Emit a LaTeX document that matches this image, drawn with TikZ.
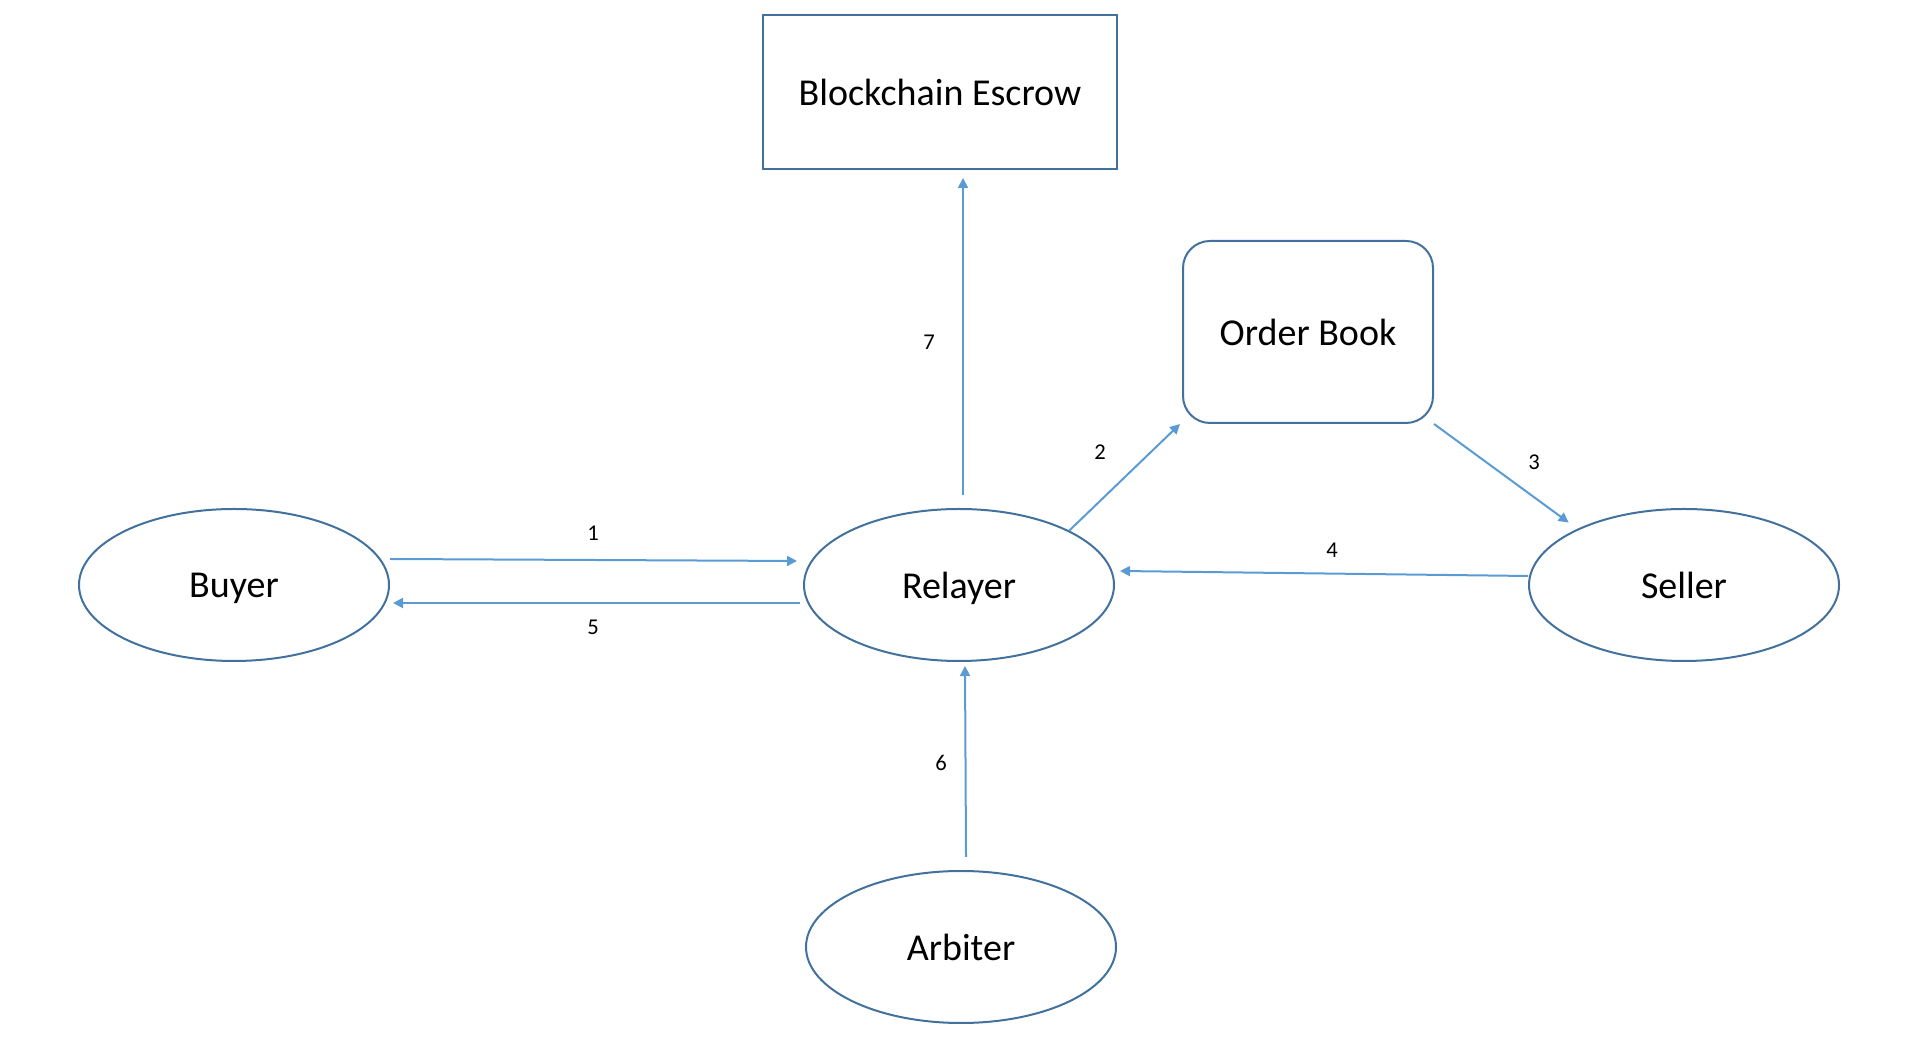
\documentclass[tikz,border=0pt]{standalone}
\usepackage{fontspec}
\setmainfont{Carlito}
\usepackage{tikz}
\usetikzlibrary{shapes.geometric, arrows.meta}

\definecolor{outlineblue}{HTML}{41719C}
\definecolor{arrowblue}{HTML}{5B9BD5}

\begin{document}
\begin{tikzpicture}[x=1pt, y=1pt,
  party/.style={ellipse, draw=outlineblue, line width=1pt, minimum width=155pt, minimum height=76pt, inner sep=0pt, text depth=0pt, font=\fontsize{19}{23}\selectfont},
  store/.style={rectangle, draw=outlineblue, line width=1pt, inner sep=0pt, text depth=0pt, font=\fontsize{19}{23}\selectfont},
  flow/.style={draw=arrowblue, line width=1pt, -{Triangle[length=5pt, width=5pt]}},
  num/.style={inner sep=0pt, font=\fontsize{11.3}{13}\selectfont}]

\useasboundingbox (0, 0) rectangle (957, 524);

% draw boxes
\node[store, minimum width=177pt, minimum height=77pt] (escrow) at (470, 478) {Blockchain Escrow};
\node[store, rounded corners=13.5pt, minimum width=125pt, minimum height=91pt] (book) at (654, 358) {Order Book};

% draw parties
\node[party] (buyer) at (117, 231.5) {Buyer};
\node[party] (relayer) at (479.5, 231.5) {Relayer};
\node[party] (seller) at (842, 231.5) {Seller};
\node[party] (arbiter) at (480.5, 50.5) {Arbiter};

% draw flows
\draw[flow] ([yshift=13pt]buyer.east) -- ([xshift=-3pt, yshift=12pt]relayer.west);
\draw[flow] (relayer.north east) -- ([xshift=-1pt]book.south west);
\draw[flow] (book.south east) -- ([xshift=-2.5pt, yshift=4pt]seller.north west);
\draw[flow] ([yshift=4.5pt]seller.west) -- ([xshift=2.5pt, yshift=7pt]relayer.east);
\draw[flow] ([xshift=-1.5pt, yshift=-9pt]relayer.west) -- ([xshift=1.5pt, yshift=-9pt]buyer.east);
\draw[flow] ([xshift=2.5pt, yshift=6.5pt]arbiter.north) -- ([xshift=3pt, yshift=-2pt]relayer.south);
\draw[flow] ([xshift=2pt, yshift=6.5pt]relayer.north) -- ([xshift=11.5pt, yshift=-4pt]escrow.south);

% draw labels
\node[num] (n1) at (296.5, 257.5) {1};
\node[num] (n2) at (550, 298) {2};
\node[num] (n3) at (767, 293) {3};
\node[num] (n4) at (666, 249) {4};
\node[num] (n5) at (296.5, 210.5) {5};
\node[num] (n6) at (470.5, 142.5) {6};
\node[num] (n7) at (464.5, 353) {7};

\end{tikzpicture}
\end{document}
